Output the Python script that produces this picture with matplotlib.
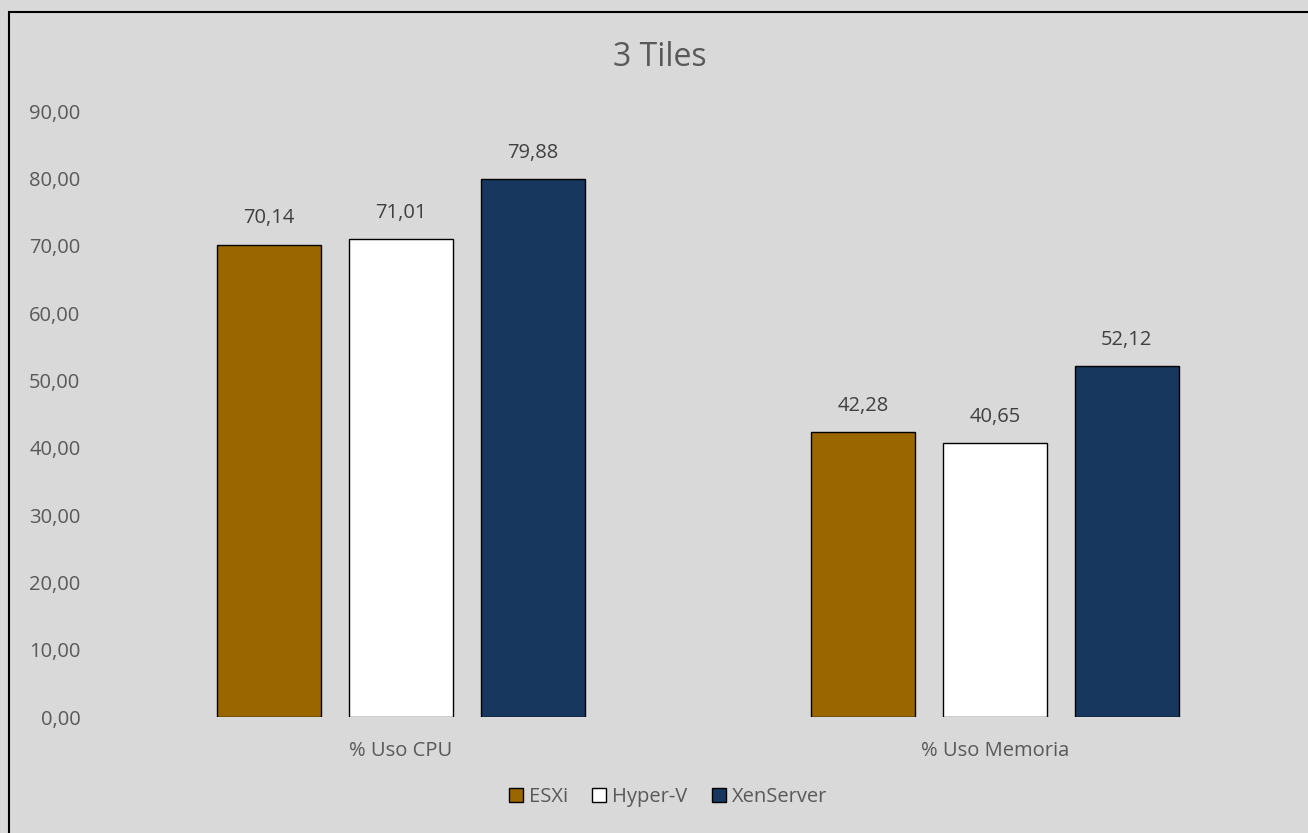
import matplotlib
matplotlib.use("Agg")
import matplotlib.pyplot as plt
from matplotlib.patches import Rectangle
import numpy as np

categories = ["% Uso CPU", "% Uso Memoria"]
series_names = ["ESXi", "Hyper-V", "XenServer"]
esxi = [70.14, 42.28]
hyperv = [71.01, 40.65]
xenserver = [79.88, 52.12]
colors = ["#996600", "#FFFFFF", "#17375E"]
yticks = [0, 10, 20, 30, 40, 50, 60, 70, 80, 90]

plt.rcParams['font.family'] = ['Open Sans', 'DejaVu Sans']
W, H = 1308, 833
fig = plt.figure(figsize=(W/100, H/100), dpi=100)
bg = "#D9D9D9"
fig.patch.set_facecolor(bg)
tc = "#595959"
fs = 14.5

ax = fig.add_axes([104/W, (H-717)/H, (1292-104)/W, (717-111)/H])
ax.set_facecolor(bg)

x = np.arange(len(categories))
bw = 0.175
step = 0.222
for i, (vals, name, c) in enumerate(zip([esxi, hyperv, xenserver], series_names, colors)):
    pos = x + (i-1)*step
    ax.bar(pos, vals, bw, color=c, edgecolor="black", linewidth=1.0, label=name, zorder=3)
    for p, v in zip(pos, vals):
        ax.text(p, v + 3.9, f"{v:.2f}".replace(".", ","), ha="center", va="center",
                fontsize=fs, color="#404040")

ax.set_xlim(-0.5, 1.5)
ax.set_ylim(0, 90)
ax.set_yticks(yticks)
ax.set_yticklabels([f"{t:.2f}".replace(".", ",") for t in yticks], fontsize=fs, color=tc)
ax.set_xticks(x)
ax.set_xticklabels(categories, fontsize=fs, color=tc)
ax.tick_params(axis='both', length=0)
ax.tick_params(axis='y', pad=17)
ax.tick_params(axis='x', pad=17)
for s in ["top", "right", "left", "bottom"]:
    ax.spines[s].set_visible(False)

fig.text(660/W, 1-57/H, "3 Tiles", ha="center", va="center", fontsize=23, color=tc)

fig.legend(loc="center", bbox_to_anchor=(668/W, 1-797/H), ncol=3, frameon=False,
           fontsize=fs, handlelength=0.7, handleheight=0.7, handletextpad=0.3,
           columnspacing=1.2, labelcolor=tc)

fig.add_artist(Rectangle((9/W, -0.1), 1.2, (H-12)/H + 0.1, transform=fig.transFigure,
                         fill=False, edgecolor="black", linewidth=1.5))

fig.savefig("out.png", dpi=100, facecolor=bg)
